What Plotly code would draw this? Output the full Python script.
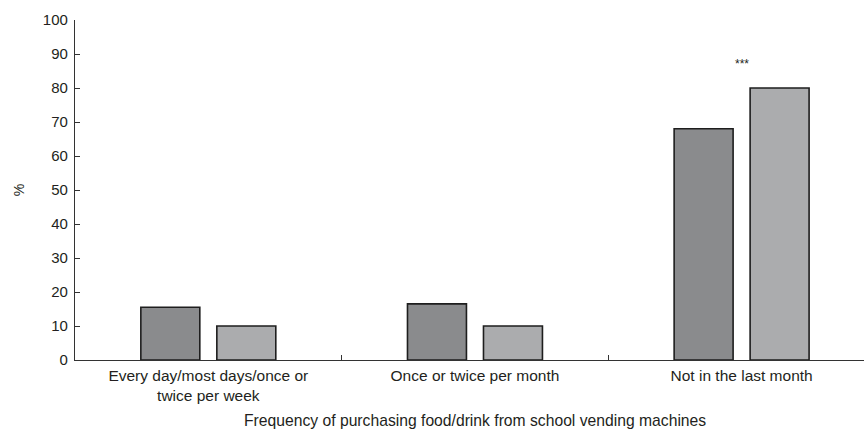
import plotly.graph_objects as go

categories = ["Every day/most days/once or<br>twice per week", "Once or twice per month", "Not in the last month"]
series_a = [15.5, 16.5, 68.0]
series_b = [10.0, 10.0, 80.0]
y_ticks = [0, 10, 20, 30, 40, 50, 60, 70, 80, 90, 100]
sig_label = "***"
sig_index = 2
sig_y = 87.0
x_title = "Frequency of purchasing food/drink from school vending machines"
y_title = "%"

xpos = list(range(len(categories)))
FONT = "Liberation Sans, Arial, sans-serif"
TXT = "#231f20"

fig = go.Figure()
fig.add_trace(go.Bar(x=xpos, y=series_a, marker=dict(color="#8a8b8d", line=dict(color="#1e1e1e", width=1.6)),
                     name="A", showlegend=False))
fig.add_trace(go.Bar(x=xpos, y=series_b, marker=dict(color="#abacae", line=dict(color="#1e1e1e", width=1.6)),
                     name="B", showlegend=False))

fig.update_layout(
    width=864, height=432,
    margin=dict(l=75, r=0, t=20, b=72),
    paper_bgcolor="white", plot_bgcolor="white",
    barmode="group", bargap=0.43, bargroupgap=0.224,
    font=dict(family=FONT, size=15, color=TXT),
    xaxis=dict(
        range=[-0.5, 2.459], tickmode="array", tickvals=xpos, ticktext=categories,
        ticks="", showline=True, linecolor="#333333", linewidth=1.2,
        showgrid=False, zeroline=False, ticklabelstandoff=1,
        minor=dict(tickmode="array", tickvals=[0.5, 1.5], ticks="inside", ticklen=5,
                   tickcolor="#333333", tickwidth=1, showgrid=False),
        tickfont=dict(size=15.5, color=TXT),
    ),
    yaxis=dict(
        range=[0, 100], tickmode="array", tickvals=y_ticks,
        ticks="inside", ticklen=5, tickcolor="#333333", tickwidth=1,
        showline=True, linecolor="#333333", linewidth=1.2,
        showgrid=False, zeroline=False, ticklabelstandoff=3,
        tickfont=dict(size=15, color=TXT),
        title=dict(text=y_title, standoff=14, font=dict(size=14, color=TXT)),
    ),
    annotations=[
        dict(x=sig_index, y=sig_y, xref="x", yref="y", text=sig_label, showarrow=False,
             font=dict(size=12, color=TXT)),
        dict(x=1, y=-0.178, xref="x", yref="paper", text=x_title, showarrow=False,
             yanchor="middle", font=dict(size=15.7, color=TXT)),
    ],
)

fig.write_html("out.html")
